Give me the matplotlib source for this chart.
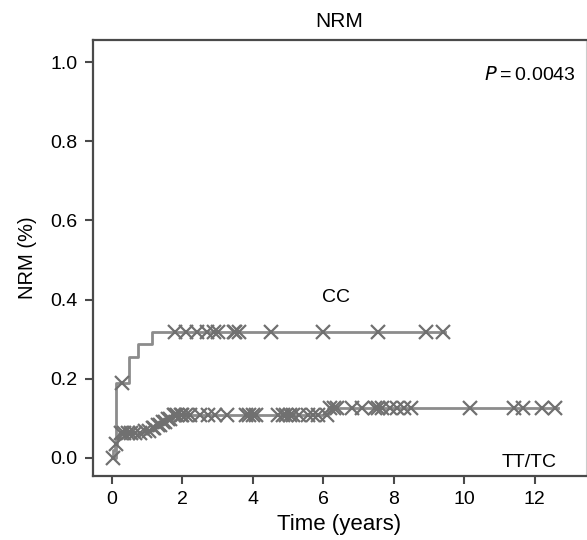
import matplotlib
matplotlib.use("Agg")
import matplotlib.pyplot as plt

# ----- DATA -----
# step changes of the cumulative incidence curves
cc_times  = [0.0, 0.11, 0.48, 0.74, 1.13, 9.45]
cc_vals   = [0.0, 0.188, 0.255, 0.288, 0.318, 0.318]
cc_cens   = [0.28, 1.8, 2.1, 2.4, 2.7, 2.9, 3.0, 3.45, 3.5, 3.6, 4.5, 6.0, 7.55, 8.9, 9.4]

tt_times  = [0.0, 0.04, 0.08, 0.13, 0.2, 0.9, 1.1, 1.25, 1.4, 1.55, 1.72, 6.12, 12.65]
tt_vals   = [0.0, 0.02, 0.036, 0.05, 0.063, 0.068, 0.075, 0.083, 0.09, 0.098, 0.108, 0.127, 0.127]
tt_cens   = [0.02, 0.12, 0.25, 0.35, 0.45, 0.55, 0.65, 0.8, 0.95, 1.05, 1.15, 1.2, 1.3,
             1.35, 1.45, 1.5, 1.6, 1.65, 1.75, 1.8, 1.85, 1.95, 2.0, 2.1, 2.2, 2.5, 2.72,
             2.92, 3.26, 3.8, 3.9, 4.0, 4.1, 4.7, 4.85, 4.95, 5.05, 5.15, 5.3, 5.57,
             5.7, 5.85, 6.1, 6.2, 6.3, 6.4, 6.8, 7.1, 7.47, 7.55, 7.66, 7.9, 8.08,
             8.3, 8.5, 10.16, 11.4, 11.66, 12.2, 12.57]

x_ticks = [0, 2, 4, 6, 8, 10, 12]
y_ticks = [0.0, 0.2, 0.4, 0.6, 0.8, 1.0]

plt.rcParams['font.family'] = ['Liberation Sans', 'DejaVu Sans']

LINE = '#8c8c8c'
MARK = '#707070'
SPINE = '#4a4a4a'
FS = 14


def level_at(times, vals, t):
    v = vals[0]
    for tt, vv in zip(times, vals):
        if tt <= t:
            v = vv
    return v


fig = plt.figure(figsize=(5.87, 5.40), dpi=100)
ax = fig.add_axes([0.1584, 0.1185, 0.8396, 0.8075])

for times, vals, cens in [(cc_times, cc_vals, cc_cens), (tt_times, tt_vals, tt_cens)]:
    ax.step(times, vals, where='post', color=LINE, lw=2.0, zorder=2)
    ax.plot(cens, [level_at(times, vals, c) for c in cens], ls='none',
            marker='x', ms=10, mew=1.6, color=MARK, zorder=3)

ax.text(6.35, 0.405, 'CC', ha='center', va='center', fontsize=FS)
ax.text(11.85, -0.012, 'TT/TC', ha='center', va='center', fontsize=FS)
ax.text(11.85, 0.968, '$P$\u2009=\u20090.0043', ha='center', va='center', fontsize=FS)

ax.set_xlim(-0.54, 13.45)
ax.set_ylim(-0.046, 1.056)
ax.set_xticks(x_ticks)
ax.set_yticks(y_ticks)
ax.set_yticklabels([f'{v:.1f}' for v in y_ticks])
ax.tick_params(labelsize=FS, length=6, width=1.5, color=SPINE, pad=5)

for s in ['left', 'bottom', 'top']:
    ax.spines[s].set_color(SPINE)
    ax.spines[s].set_linewidth(1.6)
ax.spines['right'].set_color('#cccccc')
ax.spines['right'].set_linewidth(0.8)

ax.set_xlabel('Time (years)', fontsize=16, labelpad=4)
ax.set_ylabel('NRM (%)', fontsize=14.5, labelpad=10)
ax.set_title('NRM', fontsize=15, pad=9)

fig.savefig('out.png', dpi=100)
